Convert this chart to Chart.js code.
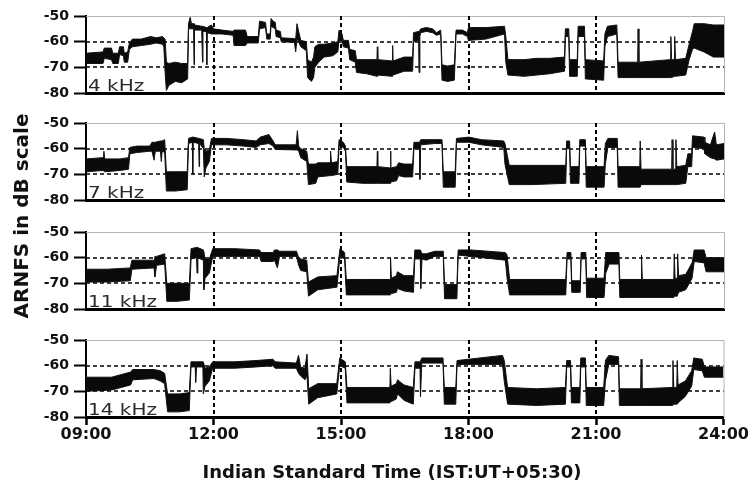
<!DOCTYPE html>
<html>
<head>
<meta charset="utf-8">
<script src="https://cdn.jsdelivr.net/npm/chart.js@4.4.1/dist/chart.umd.min.js"></script>
<style>
  html, body { margin: 0; padding: 0; background: #fff; }
  #wrap { position: relative; width: 749px; height: 487px; overflow: hidden; background: #fff; }
  canvas { position: absolute; left: 0; }
  .plabel { position: absolute; left: 88px; font-family: "DejaVu Sans", sans-serif; font-size: 16px; line-height: 16px;
            color: #2a2a2a; transform: scaleX(1.25); transform-origin: 0 0; white-space: nowrap; }
  #ytitle { position: absolute; left: -129px; top: 204px; width: 300px; height: 24px; line-height: 24px; text-align: center;
            font-family: "DejaVu Sans", sans-serif; font-weight: bold; font-size: 20px; color: #111;
            transform: rotate(-90deg); transform-origin: 50% 50%; white-space: nowrap; }
  #xtitle { position: absolute; left: 92px; top: 460px; width: 600px; height: 24px; line-height: 24px; text-align: center;
            font-family: "DejaVu Sans", sans-serif; font-weight: bold; font-size: 18px; color: #111; white-space: nowrap; }
</style>
</head>
<body>
<div id="wrap">
  <canvas id="c0" width="749" height="107" style="top:0px"></canvas>
  <canvas id="c1" width="749" height="107" style="top:107px"></canvas>
  <canvas id="c2" width="749" height="107" style="top:216px"></canvas>
  <canvas id="c3" width="749" height="163" style="top:324px"></canvas>
  <div class="plabel" style="top:78px">4 kHz</div>
  <div class="plabel" style="top:185px">7 kHz</div>
  <div class="plabel" style="top:294px">11 kHz</div>
  <div class="plabel" style="top:402px">14 kHz</div>
  <div id="ytitle">ARNFS in dB scale</div>
  <div id="xtitle">Indian Standard Time (IST:UT+05:30)</div>
</div>
<script>
// ---- Data: envelope of the recorded trace, rows = [hour (IST), upper dB, lower dB] ----
const panelNames = ['4 kHz', '7 kHz', '11 kHz', '14 kHz'];

const env4kHz = [
  [9.00,-64.5,-68.5],[9.40,-64.0,-68.5],[9.43,-62.5,-66.5],[9.60,-62.5,-67.0],[9.63,-64.5,-68.5],
  [9.76,-64.5,-68.5],[9.79,-62.0,-65.0],[9.88,-62.0,-65.5],[9.90,-64.5,-68.0],[9.98,-64.0,-68.0],
  [10.02,-60.5,-63.0],[10.09,-59.0,-62.0],[10.30,-59.0,-61.5],[10.52,-58.0,-61.0],[10.65,-58.5,-60.5],
  [10.80,-58.0,-61.0],[10.83,-58.5,-62.0],[10.86,-59.0,-72.0],[10.89,-68.0,-79.0],[10.95,-68.5,-77.0],
  [11.10,-68.0,-75.5],[11.25,-68.5,-76.0],[11.39,-68.5,-74.5],[11.41,-53.0,-55.0],[11.45,-50.5,-55.0],
  [11.48,-53.0,-55.0],[11.53,-53.0,-55.0],[11.54,-53.0,-69.0],[11.55,-53.5,-55.5],[11.72,-54.0,-55.5],
  [11.74,-54.0,-68.0],[11.75,-54.0,-56.0],[11.83,-54.5,-56.0],[11.84,-54.5,-69.0],[11.85,-54.5,-56.5],
  [11.95,-53.5,-57.0],[12.00,-55.0,-57.0],[12.20,-55.5,-57.0],[12.46,-56.0,-57.5],[12.48,-55.5,-61.5],
  [12.75,-55.5,-61.5],[12.79,-58.0,-60.5],[13.05,-58.0,-60.5],[13.08,-52.0,-55.0],[13.22,-52.5,-54.5],
  [13.25,-57.0,-59.0],[13.33,-57.0,-59.0],[13.35,-51.0,-54.0],[13.40,-52.0,-54.5],[13.45,-52.5,-55.0],
  [13.47,-55.5,-58.0],[13.57,-56.0,-58.5],[13.59,-58.5,-60.0],[13.90,-58.8,-60.3],[13.93,-59.0,-64.0],
  [13.96,-53.0,-59.0],[14.00,-56.0,-60.0],[14.05,-59.5,-62.0],[14.18,-60.0,-63.5],[14.21,-67.0,-74.0],
  [14.30,-68.0,-75.5],[14.35,-66.0,-74.0],[14.38,-62.0,-70.0],[14.47,-61.0,-68.0],[14.60,-61.0,-66.0],
  [14.80,-60.5,-65.5],[14.92,-60.0,-64.0],[14.95,-55.5,-59.5],[15.02,-57.0,-59.5],[15.05,-59.5,-62.0],
  [15.17,-59.5,-62.5],[15.20,-63.0,-67.0],[15.33,-63.5,-68.0],[15.36,-67.0,-72.0],[15.60,-67.0,-72.5],
  [15.84,-67.0,-73.5],[15.85,-62.0,-73.5],[15.86,-67.0,-73.0],[16.20,-67.5,-73.5],[16.21,-61.5,-73.0],
  [16.22,-67.5,-73.0],[16.48,-66.0,-71.5],[16.68,-66.0,-71.5],[16.70,-56.5,-60.0],[16.82,-56.0,-59.5],
  [16.83,-56.0,-72.0],[16.85,-55.5,-58.0],[16.87,-55.0,-56.5],[17.00,-54.5,-56.0],[17.15,-55.0,-56.5],
  [17.24,-56.5,-57.5],[17.34,-55.5,-57.0],[17.37,-69.0,-75.0],[17.50,-69.5,-75.5],[17.66,-69.0,-75.0],
  [17.70,-55.5,-57.0],[17.85,-55.5,-57.0],[17.97,-56.5,-58.0],[17.99,-54.5,-59.5],[18.40,-54.5,-59.0],
  [18.84,-54.0,-57.0],[18.87,-58.0,-68.0],[18.92,-67.0,-73.0],[19.30,-67.0,-73.5],[19.60,-66.5,-73.0],
  [19.90,-66.5,-72.5],[20.25,-66.0,-71.5],[20.27,-55.0,-58.0],[20.35,-55.0,-58.0],[20.37,-67.0,-73.5],
  [20.55,-67.0,-73.5],[20.57,-54.0,-58.0],[20.72,-54.0,-58.0],[20.74,-67.0,-74.5],[21.17,-67.5,-75.0],
  [21.20,-57.0,-62.0],[21.26,-54.0,-58.0],[21.48,-53.5,-57.0],[21.51,-68.0,-74.0],[21.97,-68.0,-74.0],
  [21.98,-55.0,-74.0],[22.00,-68.0,-74.0],[22.74,-67.0,-74.0],[22.75,-58.0,-74.0],[22.77,-67.0,-74.0],
  [22.83,-67.0,-73.5],[22.84,-58.0,-73.5],[22.86,-67.0,-73.5],[23.10,-66.5,-73.0],[23.18,-61.0,-67.0],
  [23.26,-56.0,-63.0],[23.30,-53.0,-62.5],[23.53,-53.0,-64.0],[23.75,-53.5,-66.0],[24.00,-53.5,-66.0]
];

const env7kHz = [
  [9.00,-64.0,-69.0],[9.40,-63.5,-68.5],[9.42,-61.0,-68.5],[9.44,-64.0,-69.0],[9.80,-64.0,-68.5],
  [10.00,-63.5,-68.0],[10.03,-59.5,-62.0],[10.20,-59.0,-61.5],[10.50,-59.0,-61.0],[10.55,-57.5,-61.0],
  [10.60,-57.5,-64.5],[10.63,-57.5,-61.0],[10.75,-57.0,-61.0],[10.77,-57.0,-65.0],[10.79,-57.0,-61.0],
  [10.85,-56.5,-61.5],[10.89,-69.0,-76.5],[11.10,-69.0,-76.5],[11.38,-69.0,-76.0],[11.41,-56.0,-58.0],
  [11.50,-55.5,-57.5],[11.51,-55.5,-70.0],[11.52,-55.5,-57.5],[11.65,-56.0,-58.0],[11.66,-56.0,-67.0],
  [11.67,-56.0,-58.0],[11.76,-56.5,-60.0],[11.78,-60.0,-71.0],[11.82,-61.0,-67.5],[11.90,-60.5,-65.0],
  [11.95,-56.0,-58.5],[12.30,-56.0,-58.5],[12.70,-56.5,-59.0],[13.00,-57.0,-59.5],[13.10,-55.5,-58.5],
  [13.30,-54.5,-58.0],[13.40,-57.0,-59.0],[13.45,-58.5,-60.3],[13.94,-58.5,-60.5],[13.97,-53.0,-60.5],
  [14.00,-59.0,-61.0],[14.05,-60.0,-63.5],[14.19,-61.0,-65.0],[14.23,-66.0,-74.0],[14.40,-66.0,-73.5],
  [14.45,-65.5,-71.0],[14.74,-65.5,-70.5],[14.75,-61.0,-70.5],[14.77,-65.5,-70.5],[14.92,-65.0,-70.0],
  [14.95,-56.5,-59.0],[15.05,-57.5,-59.5],[15.10,-59.0,-61.0],[15.13,-67.0,-73.0],[15.50,-67.0,-73.5],
  [15.84,-67.0,-73.5],[15.85,-61.0,-73.5],[15.86,-67.0,-73.5],[16.15,-67.5,-73.5],[16.16,-61.0,-73.0],
  [16.17,-67.5,-73.0],[16.30,-67.0,-72.5],[16.35,-65.5,-70.5],[16.48,-66.0,-71.0],[16.68,-66.0,-71.0],
  [16.71,-57.5,-60.0],[16.84,-57.5,-60.0],[16.85,-57.5,-72.0],[16.87,-56.5,-58.5],[17.20,-56.5,-58.0],
  [17.37,-56.5,-58.0],[17.40,-69.0,-75.0],[17.68,-69.0,-75.0],[17.71,-56.0,-57.5],[18.00,-55.5,-57.5],
  [18.30,-56.5,-58.5],[18.82,-57.0,-59.5],[18.85,-58.0,-66.0],[18.95,-66.5,-74.0],[19.50,-66.5,-74.0],
  [20.28,-66.5,-73.5],[20.30,-57.0,-60.0],[20.37,-57.0,-60.0],[20.39,-67.0,-73.5],[20.59,-67.0,-73.5],
  [20.61,-56.5,-59.0],[20.74,-56.5,-59.0],[20.76,-67.0,-75.0],[21.18,-67.0,-75.0],[21.21,-58.0,-66.0],
  [21.27,-56.0,-59.5],[21.49,-56.0,-59.5],[21.51,-67.0,-75.0],[22.02,-67.0,-75.0],[22.03,-57.0,-75.0],
  [22.05,-68.0,-74.0],[22.77,-68.0,-74.0],[22.78,-56.5,-74.0],[22.80,-68.0,-74.0],[22.86,-68.0,-74.0],
  [22.87,-56.5,-74.0],[22.89,-67.0,-74.0],[23.10,-66.5,-73.5],[23.15,-62.0,-67.0],[23.24,-62.0,-67.0],
  [23.26,-55.0,-59.5],[23.53,-55.5,-60.0],[23.55,-57.5,-62.0],[23.68,-58.5,-63.5],[23.78,-53.5,-64.0],
  [23.82,-58.5,-64.5],[24.00,-58.0,-64.0]
];

const env11kHz = [
  [9.00,-64.5,-69.5],[9.50,-64.5,-69.5],[10.04,-64.0,-69.0],[10.08,-61.0,-64.5],[10.60,-61.0,-64.0],
  [10.62,-59.5,-67.5],[10.66,-59.5,-63.0],[10.85,-58.5,-62.5],[10.90,-70.0,-77.0],[11.15,-70.0,-77.0],
  [11.43,-70.0,-76.5],[11.47,-56.5,-60.5],[11.60,-56.0,-60.0],[11.61,-56.0,-66.0],[11.63,-56.0,-60.0],
  [11.76,-57.0,-61.0],[11.77,-57.0,-72.5],[11.80,-60.5,-68.0],[11.90,-60.5,-66.0],[11.98,-56.5,-59.5],
  [12.50,-56.5,-59.5],[13.08,-57.0,-59.5],[13.12,-58.0,-61.5],[13.40,-58.0,-61.5],[13.43,-57.0,-61.0],
  [13.50,-57.0,-64.0],[13.55,-57.5,-59.5],[13.95,-57.5,-59.5],[14.00,-60.0,-63.0],[14.05,-60.5,-65.0],
  [14.19,-61.0,-65.5],[14.23,-69.5,-75.0],[14.45,-67.5,-72.5],[14.90,-67.0,-71.5],[14.97,-56.5,-59.5],
  [15.08,-58.0,-60.5],[15.12,-68.5,-74.5],[15.50,-68.5,-74.5],[16.15,-68.5,-74.5],[16.16,-60.0,-74.0],
  [16.18,-68.0,-74.0],[16.30,-67.0,-73.5],[16.32,-65.5,-72.0],[16.48,-67.0,-73.0],[16.70,-67.0,-73.5],
  [16.73,-57.0,-60.5],[16.86,-57.0,-60.5],[16.87,-57.0,-72.0],[16.90,-58.5,-60.5],[17.00,-58.5,-61.0],
  [17.20,-57.5,-59.5],[17.40,-57.5,-59.5],[17.43,-70.5,-76.0],[17.72,-70.5,-76.0],[17.75,-57.0,-59.0],
  [18.05,-57.0,-59.5],[18.86,-58.0,-61.0],[18.90,-59.0,-68.0],[18.96,-68.5,-74.5],[19.60,-68.5,-74.5],
  [20.28,-68.5,-74.5],[20.31,-58.0,-60.5],[20.40,-58.0,-60.5],[20.42,-69.0,-73.5],[20.62,-69.0,-73.5],
  [20.64,-58.0,-60.5],[20.75,-58.0,-60.5],[20.77,-68.0,-75.5],[21.18,-68.0,-75.5],[21.22,-58.0,-66.0],
  [21.30,-58.0,-62.5],[21.53,-58.0,-62.5],[21.55,-68.5,-75.5],[22.05,-68.5,-75.5],[22.06,-59.0,-75.5],
  [22.08,-68.5,-75.5],[22.82,-68.5,-75.5],[22.83,-58.5,-75.0],[22.85,-68.0,-75.0],[22.90,-68.0,-75.0],
  [22.91,-58.5,-75.0],[22.93,-67.0,-73.5],[23.10,-66.5,-72.5],[23.25,-62.0,-68.0],[23.30,-57.0,-61.5],
  [23.53,-57.0,-62.0],[23.58,-60.0,-65.5],[24.00,-60.0,-65.5]
];

const env14kHz = [
  [9.00,-64.5,-70.0],[9.60,-64.5,-69.5],[10.05,-62.5,-67.5],[10.10,-61.5,-65.5],[10.60,-61.5,-65.0],
  [10.75,-62.0,-66.0],[10.85,-63.0,-67.0],[10.92,-71.0,-78.0],[11.20,-71.0,-78.0],[11.43,-70.5,-77.5],
  [11.47,-58.5,-60.5],[11.57,-58.5,-60.5],[11.58,-58.5,-66.5],[11.60,-58.5,-60.5],[11.75,-58.5,-60.5],
  [11.76,-58.5,-71.0],[11.80,-61.0,-68.0],[11.90,-60.5,-66.0],[11.98,-58.5,-61.0],[12.50,-58.5,-61.0],
  [13.00,-58.0,-60.5],[13.40,-57.5,-60.0],[13.45,-58.5,-61.0],[13.95,-59.0,-61.0],[14.00,-56.0,-63.0],
  [14.05,-60.5,-64.0],[14.15,-61.0,-65.5],[14.20,-55.5,-64.0],[14.24,-69.0,-75.0],[14.45,-67.0,-72.5],
  [14.90,-67.0,-71.0],[14.97,-57.0,-60.0],[15.10,-58.5,-61.0],[15.14,-68.5,-74.5],[15.60,-68.5,-74.5],
  [16.15,-68.5,-74.5],[16.16,-61.0,-74.0],[16.18,-68.0,-74.0],[16.30,-67.0,-73.0],[16.33,-65.5,-71.0],
  [16.48,-67.5,-73.5],[16.70,-68.5,-75.0],[16.74,-58.5,-61.0],[16.86,-58.5,-61.0],[16.87,-58.5,-72.0],
  [16.90,-57.0,-59.0],[17.40,-57.0,-59.0],[17.43,-68.5,-75.0],[17.70,-68.5,-75.0],[17.73,-58.0,-59.5],
  [18.00,-57.5,-59.5],[18.80,-56.0,-59.5],[18.84,-58.0,-66.0],[18.92,-68.5,-75.0],[19.60,-69.0,-75.5],
  [20.28,-68.5,-75.0],[20.31,-58.0,-60.5],[20.40,-58.0,-60.5],[20.42,-68.5,-74.5],[20.62,-68.5,-74.5],
  [20.64,-57.0,-60.5],[20.75,-57.0,-60.5],[20.77,-68.5,-75.5],[21.18,-68.5,-75.5],[21.22,-58.0,-66.0],
  [21.30,-56.0,-59.5],[21.53,-56.5,-59.5],[21.55,-69.0,-75.5],[22.05,-69.0,-75.5],[22.06,-57.5,-75.5],
  [22.08,-69.0,-75.5],[22.80,-68.5,-75.5],[22.81,-58.0,-75.0],[22.83,-68.5,-75.0],[22.90,-68.5,-75.0],
  [22.91,-58.0,-75.0],[22.93,-67.5,-74.5],[23.10,-66.0,-72.0],[23.25,-62.0,-68.0],[23.30,-57.0,-61.5],
  [23.50,-57.5,-62.0],[23.55,-60.5,-64.5],[24.00,-60.5,-64.5]
];

const panelEnvelopes = [env4kHz, env7kHz, env11kHz, env14kHz];

// ---- Axes ----
const xTickHours  = [9, 12, 15, 18, 21, 24];
const xTickLabels = ['09:00', '12:00', '15:00', '18:00', '21:00', '24:00'];
const yTickValues = [-80, -70, -60, -50];
const dashedLevels = [-60, -70];
const dashedHours  = [12, 15, 18, 21];

const FONT = '"DejaVu Sans", sans-serif';

const frameGridPlugin = {
  id: 'frameGrid',
  beforeDatasetsDraw(chart) {
    const { ctx, chartArea: a, scales: { x, y } } = chart;
    ctx.save();
    ctx.strokeStyle = '#b5b5b5';
    ctx.lineWidth = 1;
    ctx.beginPath();
    ctx.moveTo(a.left, a.top + 0.5);
    ctx.lineTo(a.right + 0.5, a.top + 0.5);
    ctx.lineTo(a.right + 0.5, a.bottom);
    ctx.stroke();
    ctx.strokeStyle = '#000';
    ctx.lineWidth = 1.5;
    ctx.setLineDash([4, 3]);
    for (const v of dashedLevels) {
      const py = Math.round(y.getPixelForValue(v));
      ctx.beginPath(); ctx.moveTo(a.left, py); ctx.lineTo(a.right, py); ctx.stroke();
    }
    ctx.lineWidth = 2;
    for (const h of dashedHours) {
      const px = Math.round(x.getPixelForValue(h));
      ctx.beginPath(); ctx.moveTo(px, a.top); ctx.lineTo(px, a.bottom); ctx.stroke();
    }
    ctx.restore();
  }
};

panelEnvelopes.forEach((env, i) => {
  const isLast = i === panelEnvelopes.length - 1;
  const upper = env.map(r => ({ x: r[0], y: r[1] }));
  const lower = env.map(r => ({ x: r[0], y: r[2] }));
  new Chart(document.getElementById('c' + i), {
    type: 'line',
    data: {
      datasets: [
        { label: panelNames[i] + ' upper', data: upper, borderColor: '#111', borderWidth: 1,
          pointRadius: 0, tension: 0, fill: false },
        { label: panelNames[i] + ' lower', data: lower, borderColor: '#111', borderWidth: 1,
          pointRadius: 0, tension: 0, fill: '-1', backgroundColor: '#0a0a0a' }
      ]
    },
    options: {
      responsive: false,
      animation: false,
      events: [],
      layout: { padding: { top: 16, bottom: isLast ? 0 : 14, left: 0, right: 25 } },
      plugins: { legend: { display: false }, tooltip: { enabled: false }, title: { display: false } },
      scales: {
        x: {
          type: 'linear', min: 9, max: 24,
          afterBuildTicks: s => { s.ticks = xTickHours.map(v => ({ value: v })); },
          afterFit: s => { s.height = isLast ? 70 : 0; },
          ticks: {
            display: isLast, autoSkip: false, maxRotation: 0, padding: 0, color: '#111',
            font: { family: FONT, weight: 'bold', size: 16 },
            callback: (v, idx) => xTickLabels[idx]
          },
          grid: { drawOnChartArea: false, drawTicks: isLast, tickLength: 8, tickColor: '#000', tickWidth: 2.5 },
          border: { display: true, color: '#000', width: 3 }
        },
        y: {
          min: -80, max: -50,
          afterBuildTicks: s => { s.ticks = yTickValues.map(v => ({ value: v })); },
          afterFit: s => { s.width = 86; },
          ticks: {
            padding: 5, color: '#111',
            font: { family: FONT, weight: 'bold', size: 14 },
            callback: v => String(v)
          },
          grid: { drawOnChartArea: false, drawTicks: true, tickLength: 12, tickColor: '#000', tickWidth: 2 },
          border: { display: true, color: '#000', width: 2 }
        }
      }
    },
    plugins: [frameGridPlugin]
  });
});
</script>
</body>
</html>
